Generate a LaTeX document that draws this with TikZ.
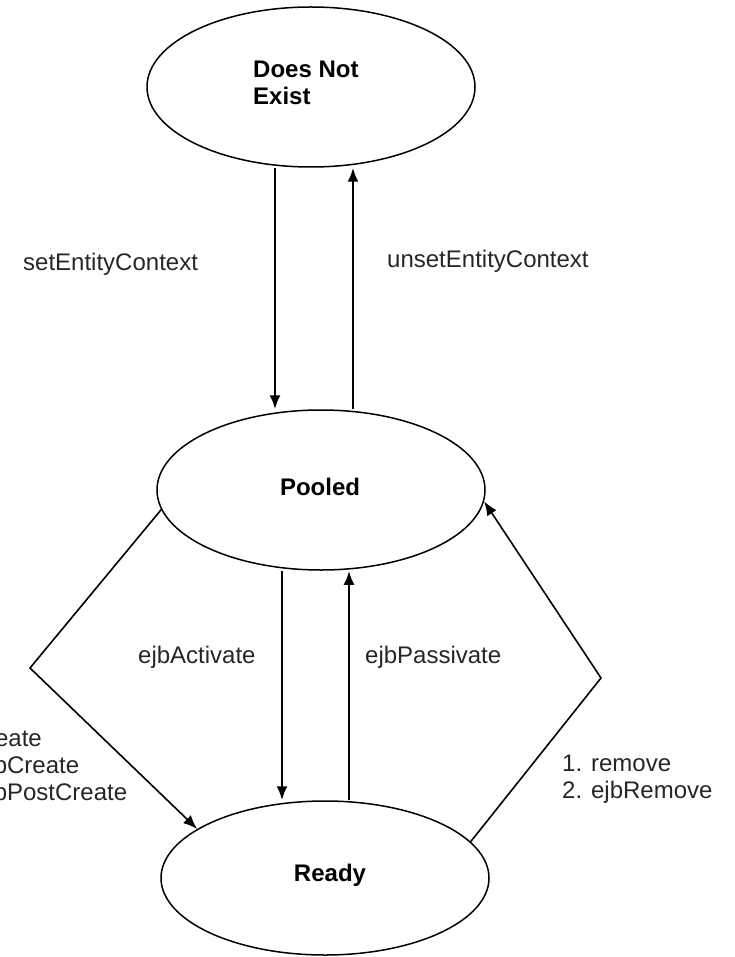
\documentclass[tikz,border=0pt]{standalone}
\usepackage{fontspec}
\setmainfont{Liberation Sans}
\usetikzlibrary{shapes.geometric,arrows.meta}
\begin{document}
\begin{tikzpicture}[x=1pt,y=-1pt,
  state/.style={draw,ellipse,line width=1.5pt,minimum width=328pt,minimum height=160pt,inner sep=0pt},
  statelabel/.style={font=\fontsize{24}{27}\selectfont\bfseries,align=left,inner sep=0pt},
  lbl/.style={font=\fontsize{24}{27}\selectfont,align=left,anchor=west,inner sep=0pt,text=black!85},
  trans/.style={line width=2.4pt,-{Latex[length=14pt,width=11pt]}},
  diag/.style={line width=1.6pt,-{Latex[length=14pt,width=11pt]}}]
\clip (0,0) rectangle (734,957);

% states
\node[state] (dne) at (311,87) {};
\node[state] (pooled) at (321,490) {};
\node[state,minimum height=154pt] (ready) at (325,878) {};

\node[statelabel,anchor=west] (dnetext) at (253,83) {Does Not\\Exist};
\node[statelabel] (pooledtext) at (320,487) {Pooled};
\node[statelabel] (readytext) at (330,875) {Ready};

% x positions of the vertical transitions
\coordinate (xa) at (275,0);
\coordinate (xb) at (353,0);
\coordinate (xc) at (282,0);
\coordinate (xd) at (349,0);

\draw[trans] (dne.south -| xa) -- (pooled.north -| xa);
\draw[trans] (pooled.north -| xb) -- (dne.south -| xb);
\draw[trans] (pooled.south -| xc) -- (ready.north -| xc);
\draw[trans] (ready.north -| xd) -- (pooled.south -| xd);

% side transitions
\coordinate (lv) at (30,668);
\coordinate (rv) at (601,678);
\draw[diag] (pooled.187) -- (lv) -- (ready.159);
\draw[diag] (ready.14) -- (rv) -- (pooled.-4);

% transition labels (the create list runs past the left edge)
\node[lbl] (l1) at (23,264) {setEntityContext};
\node[lbl] (l2) at (387,261) {unsetEntityContext};
\node[lbl] (l3) at (138,657) {ejbActivate};
\node[lbl] (l4) at (365,657) {ejbPassivate};
\node[lbl] (l5) at (562,779) {1. remove\\2. ejbRemove};
\node[lbl] (l6) at (-54,768) {1. create\\2. ejbCreate\\3. ejbPostCreate};
\end{tikzpicture}
\end{document}
